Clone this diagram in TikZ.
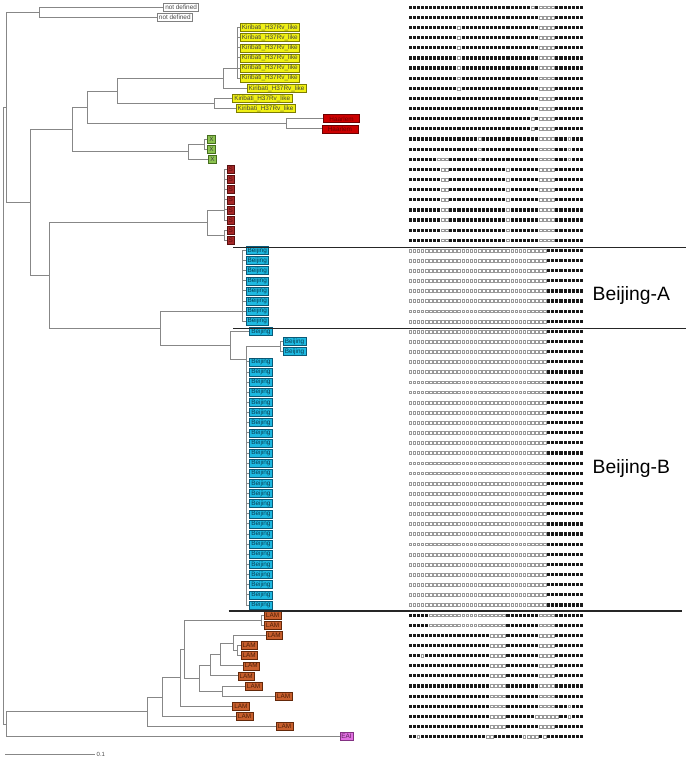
\documentclass[tikz,border=0pt]{standalone}
\usepackage{fontspec}
\setmainfont{Liberation Sans}
\definecolor{treeG}{RGB}{135,135,135}
\definecolor{kirF}{RGB}{240,240,20}\definecolor{kirD}{RGB}{125,125,0}
\definecolor{haaF}{RGB}{204,0,0}\definecolor{haaD}{RGB}{110,0,0}
\definecolor{xF}{RGB}{140,195,80}\definecolor{xD}{RGB}{70,110,30}
\definecolor{sF}{RGB}{165,40,40}\definecolor{sD}{RGB}{90,15,15}
\definecolor{beF}{RGB}{30,185,225}\definecolor{beD}{RGB}{10,90,120}
\definecolor{lamF}{RGB}{200,95,45}\definecolor{lamD}{RGB}{100,40,10}
\definecolor{eaiF}{RGB}{225,110,225}\definecolor{eaiD}{RGB}{130,50,130}
\tikzset{
  br/.style={draw=treeG,line width=0.9pt},
  lab/.style={anchor=west,draw,line width=0.5pt,inner xsep=1.7pt,inner ysep=0pt,minimum height=8pt,font=\fontsize{6.4}{7}\selectfont},
  ndl/.style={lab,fill=white,draw=gray,text=black!70},
  kirl/.style={lab,fill=kirF,draw=kirD,text=black!75},
  haal/.style={lab,fill=haaF,draw=haaD,text=haaD},
  xl/.style={lab,fill=xF,draw=xD,text=black!75},
  sl/.style={lab,fill=sF,draw=sD,text=sD},
  bel/.style={lab,fill=beF,draw=beD,text=beD!70!black},
  laml/.style={lab,fill=lamF,draw=lamD,text=lamD!80!black},
  eail/.style={lab,fill=eaiF,draw=eaiD,text=eaiD!70!black},
  spb/.style={fill=black!90},
  spw/.style={fill=white,draw=black!40,line width=0.4pt},
  divider/.style={draw=black!85,line width=1.3pt},
  big/.style={font=\fontsize{19.3}{22}\selectfont,inner sep=0pt,anchor=base west}
}
\newcommand\spolrow[2]{%
  \foreach \i in {1,...,43}{\path[spb] ({408.5+4.08*(\i-1)},#1) +(0pt,-1.6pt) rectangle +(3.1pt,1.6pt);}%
  \foreach \i in {#2}{\path[fill=white] ({408.5+4.08*(\i-1)},#1) +(-0.2pt,-1.8pt) rectangle +(3.3pt,1.8pt);
    \path[spw] ({408.5+4.08*(\i-1)},#1) +(0.2pt,-1.4pt) rectangle +(2.9pt,1.4pt);}%
}
\begin{document}
\begin{tikzpicture}[x=1pt,y=-10.13pt]
\useasboundingbox (0pt,0pt) rectangle (689pt,-760pt);
\begin{scope}[yshift=-7.3pt]
% ---------- leaf labels ----------
\node[ndl] (l0) at (163.3,0) {not defined};
\node[ndl] (l1) at (157,1) {not defined};
\foreach \k in {2,...,7}{\node[kirl] (l\k) at (240,\k) {Kiribati\_H37Rv\_like};}
\node[kirl] (l8) at (246.7,8) {Kiribati\_H37Rv\_like};
\node[kirl] (l9) at (232.3,9) {Kiribati\_H37Rv\_like};
\node[kirl] (l10) at (235.7,10) {Kiribati\_H37Rv\_like};
\node[haal,minimum width=36pt] (l11) at (323.3,11) {Haarlem};
\node[haal,minimum width=36pt] (l12) at (321.7,12) {Haarlem};
\node[xl] (l13) at (207.3,13) {X};
\node[xl] (l14) at (207.3,14) {X};
\node[xl] (l15) at (208.3,15) {X};
\foreach \k in {16,...,23}{\node[sl] (l\k) at (226.7,\k) {S};}
\foreach \k in {24,...,31}{\node[bel] (l\k) at (245.7,\k) {Beijing};}
\node[bel] (l32) at (249.3,32) {Beijing};
\node[bel] (l33) at (283,33) {Beijing};
\node[bel] (l34) at (283,34) {Beijing};
\foreach \k in {35,...,59}{\node[bel] (l\k) at (249.3,\k) {Beijing};}
\node[laml] (l60) at (264,60) {LAM};
\node[laml] (l61) at (264,61) {LAM};
\node[laml] (l62) at (265.7,62) {LAM};
\node[laml] (l63) at (240.7,63) {LAM};
\node[laml] (l64) at (240.7,64) {LAM};
\node[laml] (l65) at (242.7,65) {LAM};
\node[laml] (l66) at (237.7,66) {LAM};
\node[laml] (l67) at (245,67) {LAM};
\node[laml] (l68) at (275,68) {LAM};
\node[laml] (l69) at (232.3,69) {LAM};
\node[laml] (l70) at (236,70) {LAM};
\node[laml] (l71) at (276,71) {LAM};
\node[eail] (l72) at (339.5,72) {EAI};
% ---------- internal nodes ----------
\coordinate (nR) at (3.3,40.33);
\coordinate (nP) at (6.7,9.885);
\coordinate (nND) at (39.3,0.5);
\coordinate (nA) at (30,19.27);
\coordinate (nB) at (72.7,12.06);
\coordinate (nD) at (87.3,9.879);
\coordinate (nKIR) at (117.3,8.258);
\coordinate (nK7) at (223.3,7.016);
\coordinate (nKP) at (237.3,6.03);
\coordinate (nK2) at (214.3,9.5);
\coordinate (nHAA) at (286.7,11.5);
\coordinate (nXN) at (188.3,14.25);
\coordinate (nXP) at (204.3,13.5);
\coordinate (nC) at (49.3,26.48);
\coordinate (nSN) at (207.3,21.27);
\coordinate (nSP1) at (224,20.03);
\coordinate (nSP2) at (224,22.5);
\coordinate (nE) at (160,31.69);
\coordinate (nBA) at (242.7,30.008);
\coordinate (nF) at (230,33.375);
\coordinate (nBG) at (246.7,34.75);
\coordinate (nBP) at (280,33.5);
\coordinate (nQ) at (6,70.77);
\coordinate (nH) at (147.7,69.55);
\coordinate (nI) at (162.3,68.09);
\coordinate (nJ) at (180.7,66.18);
\coordinate (nK) at (184.3,63.36);
\coordinate (nLP1) at (261.7,60.5);
\coordinate (nL) at (199.3,66.22);
\coordinate (nM) at (210.7,64.94);
\coordinate (nO) at (220,63.875);
\coordinate (nL233) at (233.3,62.75);
\coordinate (nLP2) at (237.7,63.5);
\coordinate (nN) at (222.7,67.5);
% ---------- branches ----------
\draw[br] (nR) |- (nP); \draw[br] (nR) |- (nQ);
\draw[br] (nP) |- (nND); \draw[br] (nP) |- (nA);
\draw[br] (nND) |- (l0.west); \draw[br] (nND) |- (l1.west);
\draw[br] (nA) |- (nB); \draw[br] (nA) |- (nC);
\draw[br] (nB) |- (nD); \draw[br] (nB) |- (nXN);
\draw[br] (nD) |- (nKIR); \draw[br] (nD) |- (nHAA);
\draw[br] (nKIR) |- (nK7); \draw[br] (nKIR) |- (nK2);
\draw[br] (nK7) |- (nKP); \draw[br] (nK7) |- (l8.west);
\foreach \k in {2,...,7}{\draw[br] (nKP) |- (l\k.west);}
\draw[br] (nK2) |- (l9.west); \draw[br] (nK2) |- (l10.west);
\draw[br] (nHAA) |- (l11.west); \draw[br] (nHAA) |- (l12.west);
\draw[br] (nXN) |- (nXP); \draw[br] (nXN) |- (l15.west);
\draw[br] (nXP) |- (l13.west); \draw[br] (nXP) |- (l14.west);
\draw[br] (nC) |- (nSN); \draw[br] (nC) |- (nE);
\draw[br] (nSN) |- (nSP1); \draw[br] (nSN) |- (nSP2);
\foreach \k in {16,...,21}{\draw[br] (nSP1) |- (l\k.west);}
\draw[br] (nSP2) |- (l22.west); \draw[br] (nSP2) |- (l23.west);
\draw[br] (nE) |- (nBA); \draw[br] (nE) |- (nF);
\foreach \k in {24,...,31}{\draw[br] (nBA) |- (l\k.west);}
\draw[br] (nF) |- (l32.west); \draw[br] (nF) |- (nBG);
\draw[br] (nBG) |- (nBP);
\draw[br] (nBP) |- (l33.west); \draw[br] (nBP) |- (l34.west);
\foreach \k in {35,...,59}{\draw[br] (nBG) |- (l\k.west);}
\draw[br] (nQ) |- (nH); \draw[br] (nQ) |- (l72.west);
\draw[br] (nH) |- (nI); \draw[br] (nH) |- (l71.west);
\draw[br] (nI) |- (nJ); \draw[br] (nI) |- (l70.west);
\draw[br] (nJ) |- (nK); \draw[br] (nJ) |- (l69.west);
\draw[br] (nK) |- (nLP1); \draw[br] (nK) |- (nL);
\draw[br] (nLP1) |- (l60.west); \draw[br] (nLP1) |- (l61.west);
\draw[br] (nL) |- (nM); \draw[br] (nL) |- (nN);
\draw[br] (nM) |- (nO); \draw[br] (nM) |- (l66.west);
\draw[br] (nO) |- (nL233); \draw[br] (nO) |- (l65.west);
\draw[br] (nL233) |- (l62.west); \draw[br] (nL233) |- (nLP2);
\draw[br] (nLP2) |- (l63.west); \draw[br] (nLP2) |- (l64.west);
\draw[br] (nN) |- (l67.west); \draw[br] (nN) |- (l68.west);
% ---------- spoligotypes ----------
\spolrow{0}{31,33,34,35,36}
\spolrow{1}{33,34,35,36}
\foreach \k in {2,...,8}{\spolrow{\k}{13,33,34,35,36}}
\foreach \k in {9,10}{\spolrow{\k}{33,34,35,36}}
\foreach \k in {11,12}{\spolrow{\k}{31,33,34,35,36}}
\foreach \k in {13,14}{\spolrow{\k}{18,33,34,35,36,40}}
\spolrow{15}{8,9,10,18,33,34,35,36,40}
\foreach \k in {16,...,23}{\spolrow{\k}{9,10,25,33,34,35,36}}
\foreach \k in {24,...,59}{\spolrow{\k}{1,...,34}}
\foreach \k in {60,61}{\spolrow{\k}{6,7,8,9,10,11,12,13,14,15,16,17,18,19,20,21,22,23,24,33,34,35,36}}
\foreach \k in {62,63,65,66,67,68,71}{\spolrow{\k}{21,22,23,24,33,34,35,36}}
\spolrow{64}{4,21,22,23,24,33,34,35,36}
\spolrow{69}{21,22,23,24,33,34,35,36,40}
\spolrow{70}{21,22,23,24,32,33,34,35,36,37,40}
\spolrow{72}{3,20,21,29,30,31,32,34}
\end{scope}
% ---------- dividers, group labels, scale ----------
\coordinate (d1a) at (233pt,-247.7pt); \coordinate (d1b) at (686pt,-247.7pt);
\coordinate (d2a) at (233pt,-328.4pt); \coordinate (d2b) at (686pt,-328.4pt);
\coordinate (d3a) at (228.5pt,-611pt); \coordinate (d3b) at (682pt,-611pt);
\draw[divider] (d1a) -- (d1b);
\draw[divider] (d2a) -- (d2b);
\draw[divider] (d3a) -- (d3b);
\node[big] (gA) at (592.5pt,-300pt) {Beijing-A};
\node[big] (gB) at (592.5pt,-473.5pt) {Beijing-B};
\coordinate (sb1) at (5pt,-754pt); \coordinate (sb2) at (95pt,-754pt);
\draw[br] (sb1) -- (sb2);
\node[anchor=west,inner sep=0pt,font=\fontsize{6}{7}\selectfont,text=black!70] (sbl) at (96.5pt,-754pt) {0.1};
\end{tikzpicture}
\end{document}
